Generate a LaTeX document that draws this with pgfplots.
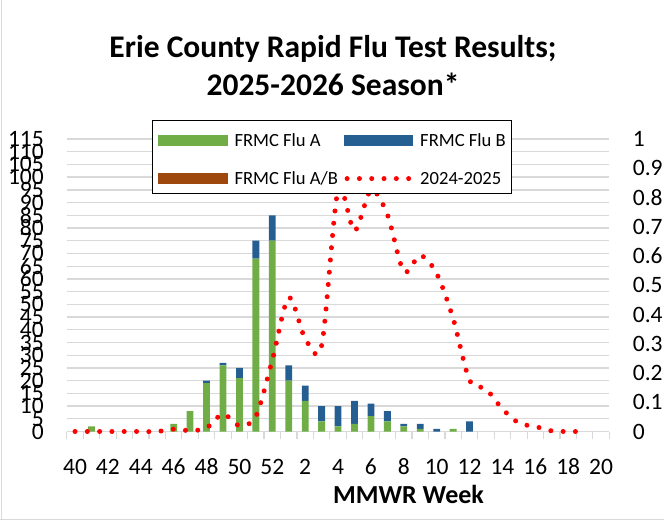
\documentclass[border=0pt]{standalone}
\usepackage{pgfplots}
\usepackage{pgfplotstable}
\pgfplotsset{compat=1.18}
\usepackage{fontspec}
\setmainfont{Carlito}
\definecolor{fluA}{HTML}{70AD47}
\definecolor{fluB}{HTML}{255E91}
\definecolor{fluAB}{HTML}{9E480E}
\definecolor{gridgray}{HTML}{D9D9D9}
\pgfplotstableread{
idx A B AB
0 0 0 0
1 2 0 0
2 0 0 0
3 0 0 0
4 0 0 0
5 0 0 0
6 3 0 0
7 8 0 0
8 19 1 0
9 26 1 0
10 21 4 0
11 68 7 0
12 75 10 0
13 20 6 0
14 12 6 0
15 4 6 0
16 2 8 0
17 3 9 0
18 6 5 0
19 4 4 0
20 2 1 0
21 1 2 0
22 0 1 0
23 1 0 0
24 0 4 0
}\bardata
\pgfplotstableread{
idx prev
0 0
1 0
2 0
3 0
4 0
5 0
6 0.008
7 0.003
8 0.012
9 0.06
10 0.02
11 0.052
12 0.244
13 0.458
14 0.318
15 0.294
16 0.825
17 0.686
18 0.825
19 0.742
20 0.547
21 0.602
22 0.54
23 0.386
24 0.175
25 0.145
26 0.077
27 0.029
28 0.017
29 0.002
30 0
31 0
}\prevdata
\begin{document}
\begin{tikzpicture}
\path[use as bounding box] (0,0) rectangle (664bp,520bp);
\draw[gridgray, line width=1bp] (1.5bp,0bp) -- (1.5bp,520bp);
\draw[gridgray, line width=1bp] (0bp,1bp) -- (664bp,1bp);
\begin{axis}[
  at={(66.8bp,88.5bp)}, anchor=south west,
  scale only axis, width=542.5bp, height=292.5bp,
  xmin=-0.5, xmax=32.5, ymin=0, ymax=115,
  ybar stacked, bar width=6.8bp,
  axis x line*=bottom, axis y line*=left,
  x axis line style={draw=gridgray, line width=1.3bp, -},
  y axis line style={draw=none},
  xtick pos=bottom, ytick pos=left,
  xtick={0,2,...,32},
  xticklabels={40,42,44,46,48,50,52,2,4,6,8,10,12,14,16,18,20},
  minor xtick={-0.5,0.5,...,32.5},
  minor tick length=7bp, major tick length=0pt,
  tick align=outside,
  minor tick style={draw=gridgray, line width=1.2bp},
  ytick={0,5,...,115},
  ymajorgrids, grid style={draw=gridgray, line width=1.3bp},
  /pgf/number format/assume math mode=true,
  tick label style={font=\fontsize{23.5bp}{23.5bp}\selectfont},
  xticklabel style={anchor=base, inner sep=0pt, yshift=-42.5bp},
  yticklabel style={anchor=east, inner sep=0pt, xshift=-22.8bp},
  xlabel={MMWR Week},
  xlabel style={at={(axis description cs:0.63,0)}, anchor=base, yshift=-71.5bp,
    font=\fontsize{26bp}{26bp}\selectfont\bfseries},
]
\addplot[fill=fluA, draw=none] table[x=idx,y=A]{\bardata};
\addplot[fill=fluB, draw=none] table[x=idx,y=B]{\bardata};
\addplot[fill=fluAB, draw=none] table[x=idx,y=AB]{\bardata};
\end{axis}
\begin{axis}[
  at={(66.8bp,88.5bp)}, anchor=south west,
  scale only axis, width=542.5bp, height=292.5bp,
  xmin=-0.5, xmax=32.5, ymin=0, ymax=1,
  hide x axis,
  axis y line*=right,
  y axis line style={draw=none},
  ytick pos=right, yticklabel pos=right,
  major tick length=0pt,
  clip=false,
  ytick={0,0.1,0.2,0.3,0.4,0.5,0.6,0.7,0.8,0.9,1},
  yticklabels={0,0.1,0.2,0.3,0.4,0.5,0.6,0.7,0.8,0.9,1},
  tick label style={font=\fontsize{23.5bp}{23.5bp}\selectfont},
  yticklabel style={anchor=west, inner sep=0pt, xshift=23.4bp},
  legend columns=2,
  legend style={at={(0.1565,1.065)}, anchor=north west, draw=black, line width=1.2bp,
    fill=white, font=\fontsize{18.6bp}{22bp}\selectfont,
    inner xsep=6bp, inner ysep=6bp, row sep=15bp,
    /tikz/every odd column/.append style={column sep=7bp},
    /tikz/every even column/.append style={column sep=6bp},
    nodes={inner sep=0pt, text height=20bp, text depth=3bp, anchor=base west}},
]
\addlegendimage{legend image code/.code={\fill[fluA] (0bp,1bp) rectangle (68bp,11bp);}}
\addlegendentry{FRMC Flu A}
\addlegendimage{legend image code/.code={\fill[fluB] (0bp,1bp) rectangle (68bp,11bp);}}
\addlegendentry{FRMC Flu B\hspace{10bp}}
\addlegendimage{legend image code/.code={\fill[fluAB] (0bp,1bp) rectangle (68bp,11bp);}}
\addlegendentry{FRMC Flu A/B}
\addplot[red, line width=5bp, dash pattern=on 0bp off 12.3bp, line cap=round, smooth,
  legend image code/.code={\draw[red, line width=5bp, dash pattern=on 0bp off 12.3bp, line cap=round] (2.5bp,6bp) -- (65bp,6bp);}]
  table[x=idx,y=prev]{\prevdata};
\addlegendentry{2024-2025}
\end{axis}
\node[anchor=base, font=\fontsize{31.5bp}{31.5bp}\selectfont\bfseries] at (333bp,462bp) {Erie County Rapid Flu Test Results;};
\node[anchor=base, font=\fontsize{31.5bp}{31.5bp}\selectfont\bfseries] at (333bp,424bp) {2025-2026 Season*};
\end{tikzpicture}
\end{document}
